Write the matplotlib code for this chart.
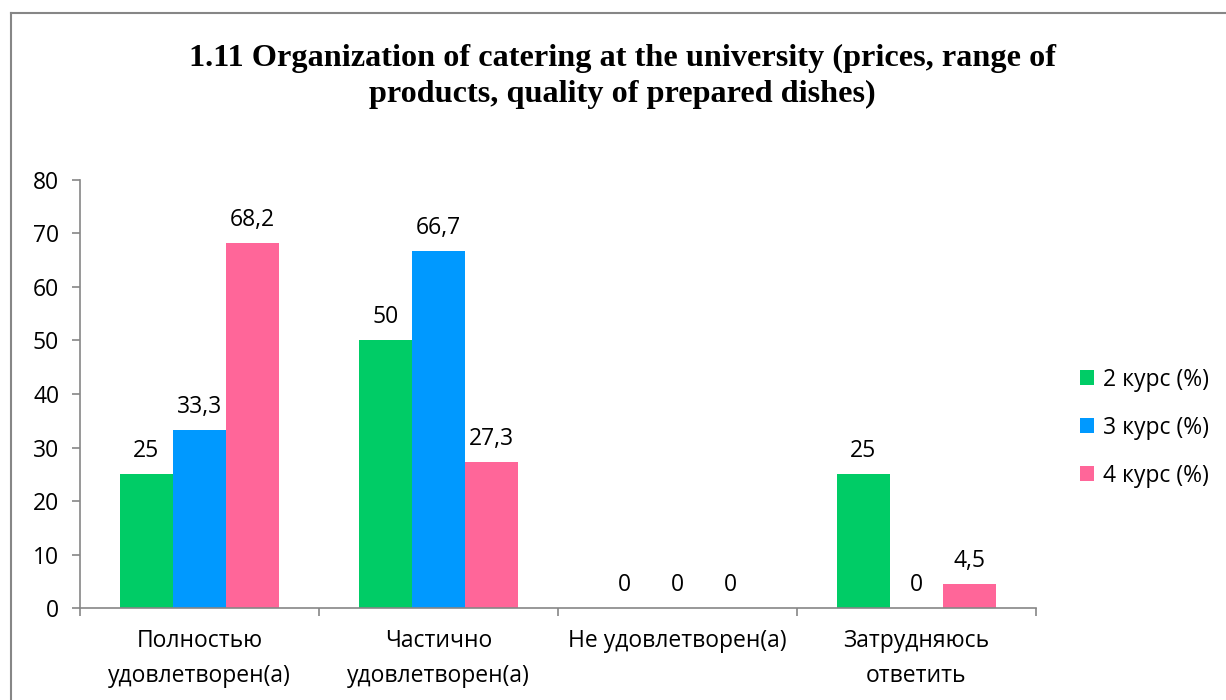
import matplotlib.pyplot as plt
import numpy as np
from matplotlib.lines import Line2D

categories = ["Полностью\nудовлетворен(а)", "Частично\nудовлетворен(а)",
              "Не удовлетворен(а)", "Затрудняюсь\nответить"]
series_names = ["2 курс (%)", "3 курс (%)", "4 курс (%)"]
course2 = [25, 50, 0, 25]
course3 = [33.3, 66.7, 0, 0]
course4 = [68.2, 27.3, 0, 4.5]
title = "1.11 Organization of catering at the university (prices, range of\nproducts, quality of prepared dishes)"

colors = ["#00CC66", "#0099FF", "#FF6699"]
sans = ["Open Sans", "DejaVu Sans"]
axis_grey = "#868686"
fs = 16.5


def fmt(v):
    s = f"{v:g}"
    return s.replace(".", ",")


fig = plt.figure(figsize=(12.26, 7), dpi=100)
ax = fig.add_axes([0.0653, 0.1314, 0.7797, 0.6115])

x = np.arange(len(categories))
width = 0.222
for i, (vals, name, col) in enumerate(zip([course2, course3, course4], series_names, colors)):
    pos = x + (i - 1) * width
    bars = ax.bar(pos, vals, width, color=col, label=name)
    for b, v in zip(bars, vals):
        ax.annotate(fmt(v), (b.get_x() + b.get_width() / 2, v),
                    xytext=(0, 8), textcoords="offset points",
                    ha="center", va="bottom", fontsize=fs, family=sans)

ax.set_xlim(-0.5, len(categories) - 0.5)
ax.set_ylim(0, 80)
ax.set_yticks(range(0, 81, 10))
ax.set_xticks(np.arange(-0.5, len(categories), 1.0))
ax.set_xticklabels([])
ax.set_xticks(x, minor=True)
ax.set_xticklabels(categories, minor=True, fontsize=fs, family=sans, linespacing=1.6)
ax.tick_params(axis="x", which="minor", length=0, pad=15)
ax.tick_params(axis="x", which="major", length=6, color=axis_grey, width=1.2)
ax.tick_params(axis="y", length=6, color=axis_grey, width=1.2, pad=9)
for lab in ax.get_yticklabels():
    lab.set_family(sans)
    lab.set_fontsize(fs)

for side in ["top", "right"]:
    ax.spines[side].set_visible(False)
for side in ["left", "bottom"]:
    ax.spines[side].set_color(axis_grey)
    ax.spines[side].set_linewidth(1.2)

leg = fig.legend(loc="center left", bbox_to_anchor=(0.864, 0.389), frameon=False,
                 prop={"family": sans, "size": fs}, handlelength=0.6, handleheight=0.6,
                 handletextpad=0.4, labelspacing=1.05)

fig.text(0.508, 0.891, title, ha="center", va="center", fontsize=23.2,
         family="Liberation Serif", weight="bold", linespacing=1.32)

# chart area border (only top and left edges visible in the crop)
fig.add_artist(Line2D([0.009, 0.009], [0, 0.981], color=axis_grey, lw=1.5, transform=fig.transFigure))
fig.add_artist(Line2D([0.009, 1.0], [0.981, 0.981], color=axis_grey, lw=1.5, transform=fig.transFigure))

fig.savefig("out.png", dpi=100)
